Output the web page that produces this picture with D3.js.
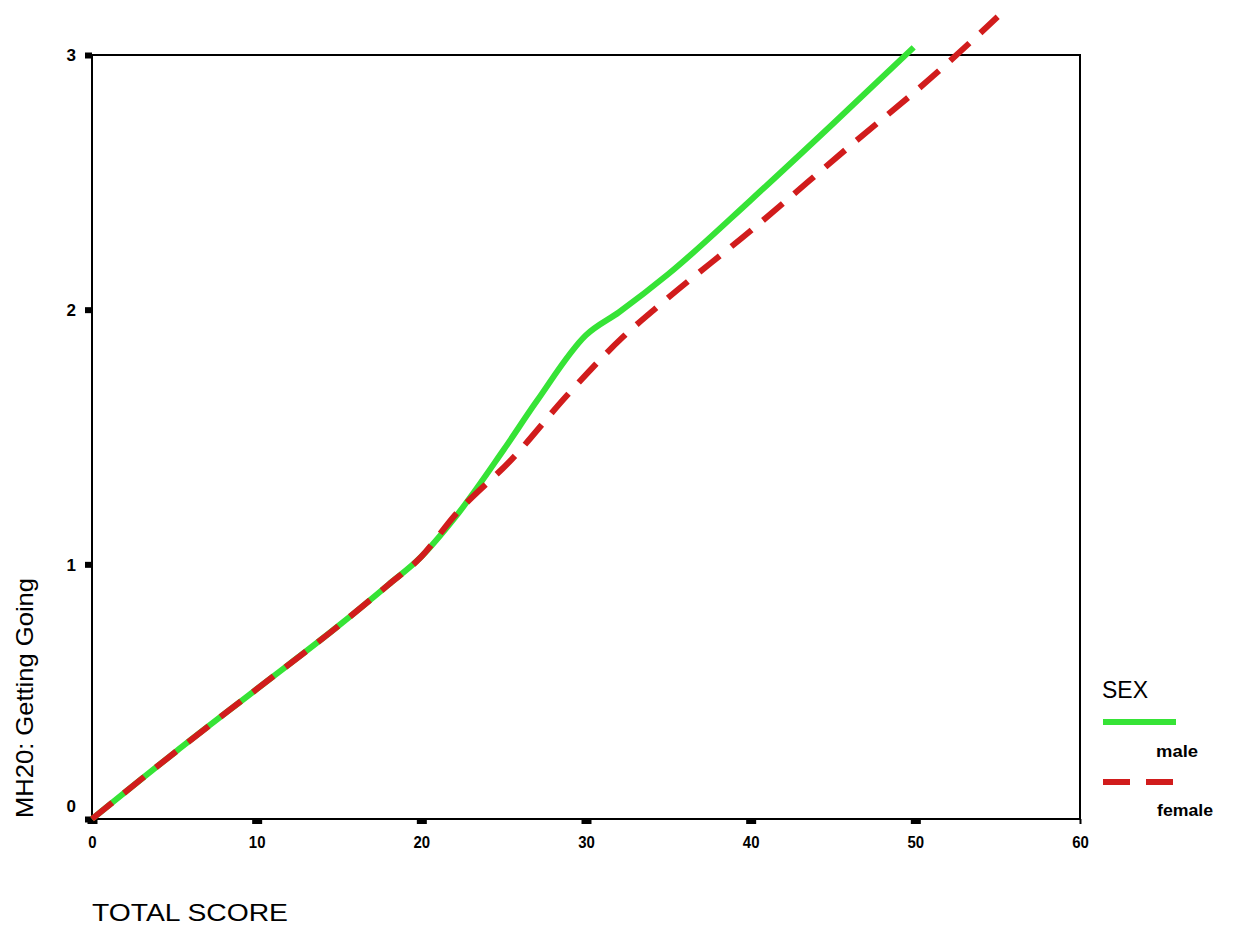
<!DOCTYPE html>
<html><head><meta charset="utf-8">
<script src="https://cdn.jsdelivr.net/npm/d3@7"></script>
<style>
body{margin:0;background:#fff;}
svg{display:block;}
</style></head>
<body>
<svg id="chart" width="1234" height="931"></svg>
<script>
const xTicks = [0,10,20,30,40,50,60];
const yTicks = [0,1,2,3];
const maleX = [0,5,10,15,18,20,22,25,27,30,32,35,40,45,49.9];
const maleY = [0,0.26,0.51,0.76,0.92,1.03,1.18,1.45,1.64,1.90,1.99,2.14,2.43,2.73,3.03];
const femaleX = [0,5,10,15,18,20,22,25.6,28.8,32.2,34.5,40,45.8,51.3,55];
const femaleY = [0,0.26,0.51,0.76,0.92,1.03,1.19,1.42,1.66,1.89,2.02,2.31,2.63,2.93,3.15];
const seriesNames = ["male","female"];
const xTitle = "TOTAL SCORE";
const yTitle = "MH20: Getting Going";
const legendTitle = "SEX";

const svg = d3.select("#chart");
const L=92, R=1080, T=55, B=819;
const x = d3.scaleLinear().domain([0,60]).range([L,R]);
const y = d3.scaleLinear().domain([0,3]).range([B,T]);
const FONT = "Liberation Sans, Arial, sans-serif";

// frame
svg.append("rect").attr("x",L).attr("y",T).attr("width",R-L).attr("height",B-T)
  .attr("fill","none").attr("stroke","#000").attr("stroke-width",2);

// x axis
const xa = svg.append("g").attr("transform",`translate(0,${B})`)
  .call(d3.axisBottom(x).tickValues(xTicks).tickSize(5).tickPadding(12).tickFormat(d3.format("d")));
xa.select(".domain").remove();
xa.selectAll("line").attr("stroke","#000").attr("stroke-width",(d)=> d===60?2:10);
xa.selectAll("text").attr("font-family",FONT).attr("font-size",17).attr("font-weight","bold").attr("fill","#000")
  .attr("transform","scale(0.9,1)").attr("x",0);
xa.selectAll(".tick text").each(function(){ d3.select(this).attr("transform","scale(0.88,1)"); });

// y axis
const ya = svg.append("g").attr("transform",`translate(${L},0)`)
  .call(d3.axisLeft(y).tickValues(yTicks).tickSize(7).tickPadding(9).tickFormat(d3.format("d")));
ya.select(".domain").remove();
ya.selectAll("line").attr("stroke","#000").attr("stroke-width",6);
ya.selectAll("text").attr("font-family",FONT).attr("font-size",17).attr("font-weight","bold").attr("fill","#000")
  .attr("dy",(d)=> d===0 ? "-0.45em" : "0.35em");

// lines
const line = d3.line().x(d=>x(d[0])).y(d=>y(d[1])).curve(d3.curveMonotoneX);
const male = maleX.map((v,i)=>[v,maleY[i]]);
const female = femaleX.map((v,i)=>[v,femaleY[i]]);
const colors = {male:"#36e336", female:"#d11c1c"};
svg.append("path").datum(male).attr("d",line).attr("fill","none")
  .attr("stroke",colors.male).attr("stroke-width",6);
svg.append("path").datum(female).attr("d",line).attr("fill","none")
  .attr("stroke",colors.female).attr("stroke-width",6).attr("stroke-dasharray","26,15");

// axis titles
svg.append("text").attr("x",92).attr("y",921).text(xTitle)
  .attr("font-family",FONT).attr("font-size",24)
  .attr("textLength",196).attr("lengthAdjust","spacingAndGlyphs").attr("fill","#000");
svg.append("text").attr("transform","translate(33,698) rotate(-90)").attr("text-anchor","middle")
  .text(yTitle).attr("font-family",FONT).attr("font-size",24)
  .attr("textLength",240).attr("lengthAdjust","spacingAndGlyphs").attr("fill","#000");

// legend
svg.append("text").attr("x",1102).attr("y",698).text(legendTitle)
  .attr("font-family",FONT).attr("font-size",23).attr("fill","#000");
const lg = [{name:seriesNames[0], y:722, ty:757, tx:1156, w:42, dash:null},
            {name:seriesNames[1], y:782, ty:816, tx:1157, w:56, dash:"27,16"}];
lg.forEach(d=>{
  svg.append("line").attr("x1",1103).attr("x2",1176).attr("y1",d.y).attr("y2",d.y)
    .attr("stroke",colors[d.name]).attr("stroke-width",6).attr("stroke-dasharray",d.dash);
  svg.append("text").attr("x",d.tx).attr("y",d.ty).text(d.name)
    .attr("font-family",FONT).attr("font-size",16).attr("font-weight","bold").attr("fill","#000")
    .attr("textLength",d.w).attr("lengthAdjust","spacingAndGlyphs");
});
</script>
</body></html>
